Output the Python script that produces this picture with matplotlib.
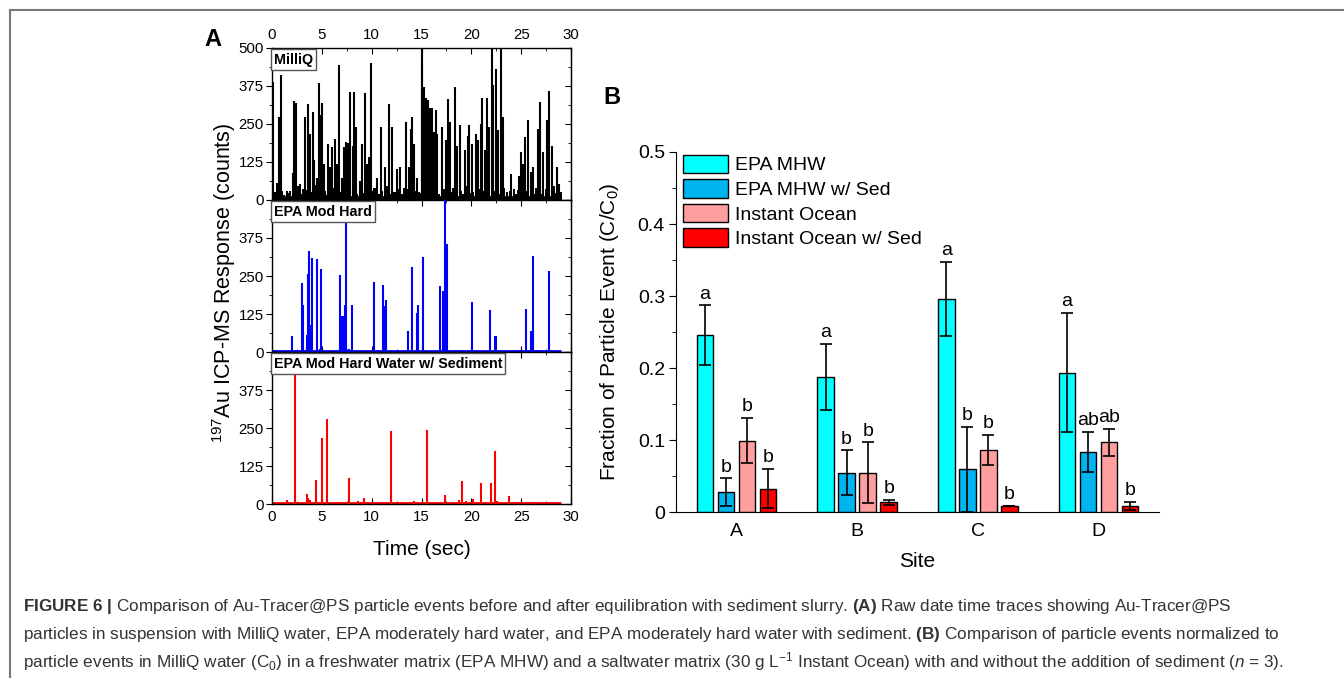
import matplotlib
matplotlib.use('Agg')
import matplotlib.pyplot as plt
from matplotlib.lines import Line2D
from matplotlib.ticker import MultipleLocator
import numpy as np

plt.rcParams['font.family'] = ['Liberation Sans', 'DejaVu Sans']
plt.rcParams['mathtext.fontset'] = 'custom'
plt.rcParams['mathtext.rm'] = 'Liberation Sans'
plt.rcParams['mathtext.it'] = 'Liberation Sans:italic'
plt.rcParams['mathtext.bf'] = 'Liberation Sans:bold'

# ---------------- Panel A data (spike events: time in s, counts) ----------------
trace_span = [0.0, 29.0]

milliq_t = [0.07, 0.5, 0.67, 0.9, 1.5, 2.1, 2.2, 2.4, 2.8, 3.3, 3.6, 3.8, 4.1, 4.25, 4.5, 4.7,
            4.85, 5.0, 5.2, 5.6, 5.85, 6.0, 6.3, 6.5, 6.75, 7.0, 7.2, 7.4, 7.6, 7.86, 8.1, 8.2,
            8.4, 8.8, 9.0, 9.3, 9.5, 9.75, 9.93, 10.2, 10.5, 10.9, 11.3, 11.74, 12.0, 12.5, 12.85,
            13.4, 13.7, 13.95, 14.05, 14.25, 14.5, 15.0, 15.1, 15.25, 15.45, 15.65, 15.85, 16.05,
            16.25, 16.45, 16.6, 17.1, 17.5, 17.7, 17.9, 18.36, 18.6, 18.9, 19.35, 19.7, 19.8,
            20.03, 20.5, 20.65, 20.97, 21.1, 21.35, 21.6, 21.8, 22.07, 22.2, 22.47, 22.7, 22.98,
            23.15, 24.0, 24.75, 24.95, 25.15, 25.4, 25.7, 25.95, 26.2, 26.7, 26.85, 27.2, 27.6,
            27.8, 28.05, 28.56, 28.8]
milliq_c = [389, 57, 273, 411, 30, 90, 325, 320, 52, 273, 317, 218, 290, 130, 74, 384,
            279, 320, 118, 185, 107, 174, 201, 118, 445, 74, 174, 190, 187, 356, 179, 356,
            240, 63, 185, 351, 118, 140, 452, 41, 74, 240, 107, 315, 240, 102, 107,
            257, 107, 234, 273, 185, 74, 500, 450, 373, 334, 328, 301, 301,
            223, 295, 218, 240, 196, 332, 257, 373, 179, 246, 163,
            212, 246, 185, 218, 196, 251, 334, 163, 334, 240, 500, 378, 430, 229, 500,
            273, 85, 80, 157, 118, 207, 264, 91, 107, 234, 323, 157, 262,
            358, 179, 107, 52]
milliq_small_t = [0.3, 0.8, 1.2, 1.8, 2.6, 2.9, 3.1, 3.9, 4.3, 5.3, 5.8, 6.15, 6.6, 7.1, 7.7, 8.5,
                  8.9, 9.6, 10.3, 10.7, 11.0, 11.5, 12.2, 12.6, 13.0, 13.2, 14.3, 14.7, 15.5,
                  16.8, 17.3, 17.95, 18.2, 19.0, 19.2, 19.55, 20.2, 20.8, 21.45, 22.35, 23.3,
                  23.6, 24.3, 24.5, 25.0, 25.55, 26.1, 26.5, 27.0, 27.45, 28.3, 28.7, 28.95,
                  0.15, 1.0, 1.65, 3.45, 5.45, 6.85, 8.3, 9.15, 10.05, 11.85, 12.35, 13.55,
                  14.85, 16.15, 17.65, 18.45, 19.95, 21.2, 22.85, 23.9, 24.65, 26.35, 27.7, 28.45]
milliq_small_c = [25, 40, 15, 30, 45, 20, 35, 25, 50, 30, 20, 40, 25, 45, 30, 20,
                  35, 25, 40, 20, 30, 45, 25, 35, 20, 40, 30, 25, 45,
                  20, 35, 25, 40, 30, 20, 45, 25, 35, 20, 30, 40,
                  25, 35, 20, 45, 30, 25, 40, 20, 35, 45, 30, 25,
                  18, 28, 22, 33, 18, 26, 38, 22, 30, 19, 27, 35,
                  22, 30, 18, 36, 24, 31, 20, 28, 34, 21, 29, 24]

epa_t = [0.3, 2.04, 2.98, 3.11, 3.48, 3.58, 3.75, 3.88, 4.01, 4.55, 4.88, 4.8, 6.79, 6.99, 7.09,
         7.29, 7.42, 7.7, 8.06, 10.27, 10.6, 11.1, 11.23, 11.4, 13.65, 14.08, 14.55, 14.65,
         15.2, 16.86, 17.13, 17.36, 17.6, 18.5, 20.03, 21.84, 22.34, 22.44, 24.9, 25.45,
         25.95, 26.2, 26.6, 27.83]
epa_c = [6, 51, 227, 156, 56, 258, 332, 89, 310, 306, 274, 10, 253, 119, 119,
         153, 430, 10, 153, 231, 8, 222, 150, 170, 69, 278, 129, 156,
         312, 218, 202, 520, 356, 6, 164, 137, 54, 54, 6, 143,
         69, 316, 6, 265]

sed_t = [1.54, 2.3, 3.5, 3.65, 3.78, 4.38, 5.02, 5.55, 6.6, 7.73, 8.6, 9.23, 11.9, 14.1,
         14.25, 15.55, 17.32, 18.8, 19.1, 19.45, 20.2, 20.94, 21.97, 22.34, 22.55, 23.75,
         24.2, 25.9]
sed_c = [13, 430, 32, 19, 13, 78, 218, 281, 8, 86, 10, 21, 239, 8,
         10, 242, 29, 13, 76, 11, 15, 70, 70, 174, 11, 27,
         8, 5]

panel_names = ['MilliQ', 'EPA Mod Hard', 'EPA Mod Hard Water w/ Sediment']
panel_colors = ['#000000', '#0000FF', '#FF0000']

# ---------------- Panel B data ----------------
sites = ['A', 'B', 'C', 'D']
series = ['EPA MHW', 'EPA MHW w/ Sed', 'Instant Ocean', 'Instant Ocean w/ Sed']
means = [
    [0.246, 0.188, 0.296, 0.194],   # EPA MHW
    [0.028, 0.055, 0.060, 0.084],   # EPA MHW w/ Sed
    [0.0995, 0.055, 0.086, 0.097],  # Instant Ocean
    [0.033, 0.014, 0.0093, 0.0093], # Instant Ocean w/ Sed
]
errors = [
    [0.041, 0.046, 0.052, 0.083],
    [0.019, 0.031, 0.059, 0.028],
    [0.031, 0.042, 0.021, 0.019],
    [0.027, 0.0035, 0.0, 0.0055],
]
letters = [
    ['a', 'a', 'a', 'a'],
    ['b', 'b', 'b', 'ab'],
    ['b', 'b', 'b', 'ab'],
    ['b', 'b', 'b', 'b'],
]
bar_colors = ['#00FFFF', '#00B4F0', '#FF9E9E', '#FF0000']

W, H = 1344, 678
fig = plt.figure(figsize=(W / 100, H / 100), dpi=100)

def fx(px):
    return px / W

def fy(py):
    return 1 - py / H

# outer frame of the figure block
fig.add_artist(Line2D([fx(10), fx(10)], [fy(10), 0], color='#777777', lw=1.5))
fig.add_artist(Line2D([fx(10), 1], [fy(10), fy(10)], color='#777777', lw=1.5))

# ---------------- Panel A ----------------
a_left, a_right = 272, 571
tops = [48, 200, 352]
ph = 152
trace_t = [milliq_t, epa_t, sed_t]
trace_c = [milliq_c, epa_c, sed_c]
axesA = []
for i in range(3):
    ax = fig.add_axes([fx(a_left), fy(tops[i] + ph), (a_right - a_left) / W, ph / H])
    col = panel_colors[i]
    base_lw = 4.0 if i == 0 else 2.0
    ax.plot(trace_span, [3, 3], color=col, lw=base_lw, solid_capstyle='butt', zorder=2)
    if i == 0:
        ax.vlines(milliq_small_t, 0, milliq_small_c, color=col, lw=1.4, zorder=2)
    ax.vlines(trace_t[i], 0, trace_c[i], color=col, lw=1.5, zorder=3)
    ax.set_xlim(0, 30)
    ax.set_ylim(0, 500)
    ax.yaxis.set_major_locator(MultipleLocator(125))
    ax.yaxis.set_minor_locator(MultipleLocator(62.5))
    ax.xaxis.set_major_locator(MultipleLocator(5))
    ax.xaxis.set_minor_locator(MultipleLocator(2.5))
    ax.tick_params(axis='y', which='both', left=True, right=False, direction='out',
                   labelsize=10.8, pad=2)
    ax.tick_params(axis='y', which='major', length=4)
    ax.tick_params(axis='y', which='minor', length=2)
    ax.tick_params(axis='x', which='both', direction='in', top=True, bottom=True,
                   labelsize=10.8, labelbottom=(i == 2), labeltop=(i == 0))
    ax.tick_params(axis='x', which='major', length=4, pad=4)
    ax.tick_params(axis='x', which='minor', length=2)
    if i > 0:
        ax.set_yticks([0, 125, 250, 375])
    sec = ax.secondary_yaxis('right')
    sec.yaxis.set_major_locator(MultipleLocator(125))
    sec.yaxis.set_minor_locator(MultipleLocator(62.5))
    sec.tick_params(which='both', direction='in', labelright=False)
    sec.tick_params(which='major', length=4)
    sec.tick_params(which='minor', length=2)
    for s in ax.spines.values():
        s.set_linewidth(1.0)
    ax.text(0.006, 0.97, panel_names[i], transform=ax.transAxes, ha='left', va='top',
            fontsize=10.3, fontweight='bold', zorder=10,
            bbox=dict(boxstyle='square,pad=0.22', fc='white', ec='#555555', lw=1.0))
    axesA.append(ax)

axesA[2].set_xlabel('Time (sec)', fontsize=15, labelpad=12)
fig.text(fx(224), fy(283), '$^{197}$Au ICP-MS Response (counts)', rotation=90,
         ha='center', va='center', fontsize=15.5)
fig.text(fx(213), fy(40), 'A', fontsize=17, fontweight='bold', ha='center', va='center')

# ---------------- Panel B ----------------
axB = fig.add_axes([fx(676), fy(512.3), (1159 - 676) / W, (512.3 - 152) / H])
x = np.arange(len(sites))
bw = 0.138
step = 0.174
for k in range(len(series)):
    xpos = x + (k - 1.5) * step
    axB.bar(xpos, means[k], width=bw, color=bar_colors[k], edgecolor='black', lw=1.0,
            label=series[k], zorder=2)
    axB.errorbar(xpos, means[k], yerr=errors[k], fmt='none', ecolor='black', elinewidth=1.2,
                 capsize=4, capthick=1.2, zorder=3)
    for j in range(len(sites)):
        axB.annotate(letters[k][j], (xpos[j], means[k][j] + errors[k][j]),
                     xytext=(0, 2), textcoords='offset points', ha='center', va='bottom',
                     fontsize=14)
axB.set_xlim(-0.5, 3.5)
axB.set_ylim(0, 0.5)
axB.set_xticks(x)
axB.set_xticklabels(sites)
axB.yaxis.set_major_locator(MultipleLocator(0.1))
axB.yaxis.set_minor_locator(MultipleLocator(0.05))
axB.yaxis.set_major_formatter(matplotlib.ticker.FuncFormatter(lambda v, p: '0' if v == 0 else f'{v:.1f}'))
axB.tick_params(axis='x', length=0, labelsize=14, pad=8)
axB.tick_params(axis='y', which='both', direction='out', labelsize=14, pad=3)
axB.tick_params(axis='y', which='major', length=5)
axB.tick_params(axis='y', which='minor', length=3)
axB.spines['top'].set_visible(False)
axB.spines['right'].set_visible(False)
axB.set_xlabel('Site', fontsize=15, labelpad=8)
axB.set_ylabel('Fraction of Particle Event (C/C$_0$)', fontsize=15, labelpad=12)
axB.legend(loc='upper left', bbox_to_anchor=(0.015, 0.993), frameon=False, fontsize=14,
           handlelength=2.3, handleheight=1.1, labelspacing=0.24, handletextpad=0.35,
           borderpad=0, borderaxespad=0)
fig.text(fx(612), fy(98), 'B', fontsize=17, fontweight='bold', ha='center', va='center')

# ---------------- Caption ----------------
cap_lines = [
    r'$\mathbf{FIGURE\ 6\ |}$ Comparison of Au-Tracer@PS particle events before and after equilibration with sediment slurry. $\mathbf{(A)}$ Raw date time traces showing Au-Tracer@PS',
    r'particles in suspension with MilliQ water, EPA moderately hard water, and EPA moderately hard water with sediment. $\mathbf{(B)}$ Comparison of particle events normalized to',
    r'particle events in MilliQ water (C$_0$) in a freshwater matrix (EPA MHW) and a saltwater matrix (30 g L$^{-1}$ Instant Ocean) with and without the addition of sediment ($\mathit{n}$ = 3).',
]
cap_y = [606, 635, 662]
for line, yy in zip(cap_lines, cap_y):
    fig.text(fx(23), fy(yy), line, ha='left', va='center', fontsize=12.3, color='#333333')

fig.savefig('out.png', dpi=100)
